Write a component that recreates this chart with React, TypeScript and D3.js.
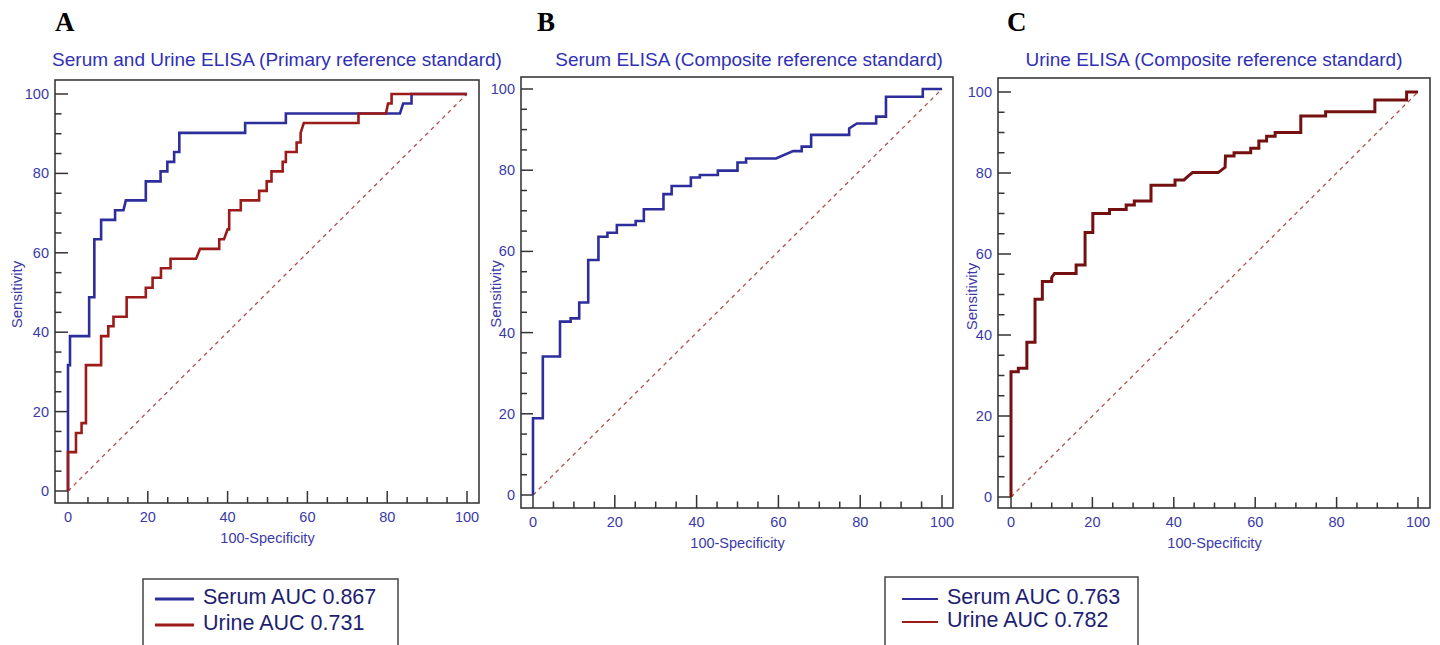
import * as d3 from "d3";

// ROC curve vertices: [100-Specificity, Sensitivity]
const serumPrimary: [number, number][] = [
  [0, 0], [0, 31.7], [0.5, 31.7], [0.5, 39], [5.3, 39], [5.3, 48.8], [6.6, 48.8], [6.6, 63.4],
  [8.3, 63.4], [8.3, 68.3], [11.8, 68.3], [11.8, 70.7], [13.9, 70.7], [14.5, 73.2], [19.5, 73.2],
  [19.5, 78], [23.2, 78], [23.2, 80.5], [24.9, 80.5], [24.9, 82.9], [26.6, 82.9], [26.6, 85.4],
  [27.9, 85.4], [27.9, 90.2], [44.4, 90.2], [44.4, 92.7], [54.6, 92.7], [54.6, 95.1], [83.2, 95.1],
  [84, 97.6], [86.1, 97.6], [86.1, 100], [100, 100],
];

const urinePrimary: [number, number][] = [
  [0, 0], [0, 9.8], [2, 9.8], [2, 14.6], [3.4, 14.6], [3.4, 17.1], [4.5, 17.1], [4.5, 31.7],
  [8.3, 31.7], [8.3, 39], [10.1, 39], [10.1, 41.5], [11.4, 41.5], [11.4, 43.9], [14.7, 43.9],
  [14.7, 48.8], [19.5, 48.8], [19.5, 51.2], [21.2, 51.2], [21.2, 53.7], [23.3, 53.7], [23.3, 56.1],
  [25.7, 56.1], [25.7, 58.5], [32.1, 58.5], [33.1, 61], [37.9, 61], [37.9, 63.4], [39.1, 63.4],
  [40, 65.9], [40.4, 65.9], [40.4, 70.7], [43.3, 70.7], [43.3, 73.2], [47.9, 73.2], [47.9, 75.6],
  [49.8, 75.6], [49.8, 78], [51, 78], [51, 80.5], [53.8, 80.5], [53.8, 82.9], [54.6, 82.9],
  [54.6, 85.4], [57.3, 85.4], [57.3, 87.8], [58.3, 87.8], [58.3, 90.2], [59.1, 92.7], [72.8, 92.7],
  [72.8, 95.1], [79.7, 95.1], [80.2, 97.6], [81.1, 97.6], [81.1, 100], [100, 100],
];

const serumComposite: [number, number][] = [
  [0, 0], [0, 18.9], [2.4, 18.9], [2.4, 34.1], [6.6, 34.1], [6.6, 42.7], [9.2, 42.7], [9.2, 43.5],
  [11.3, 43.5], [11.3, 47.4], [13.5, 47.4], [13.5, 57.9], [16, 57.9], [16, 63.6], [18.2, 63.6],
  [18.2, 64.6], [20.5, 64.6], [20.5, 66.5], [25.1, 66.5], [25.1, 67.5], [27.1, 67.5], [27.1, 70.4],
  [31.9, 70.4], [31.9, 74.1], [33.9, 74.1], [33.9, 76.1], [38.6, 76.1], [38.6, 78.2], [40.8, 78.2],
  [40.8, 78.8], [45.2, 78.8], [45.2, 79.9], [50, 79.9], [50, 81.9], [52.1, 81.9], [52.1, 82.9],
  [59.4, 82.9], [63.6, 84.7], [65.7, 84.7], [65.7, 85.8], [68, 85.8], [68, 88.7], [77.3, 88.7],
  [77.3, 90.3], [79.2, 91.5], [83.9, 91.5], [83.9, 93.2], [86.3, 93.2], [86.3, 98.1], [95.3, 98.1],
  [95.3, 100], [100, 100],
];

const urineComposite: [number, number][] = [
  [0, 0], [0, 30.9], [1.8, 30.9], [1.8, 31.8], [3.9, 31.8], [3.9, 38.2], [5.9, 38.2], [5.9, 48.8],
  [7.7, 48.8], [7.7, 53.2], [10, 53.2], [10, 54.2], [10.7, 55.2], [16, 55.2], [16, 57.3],
  [18.2, 57.3], [18.2, 65.3], [20.1, 65.3], [20.1, 70], [24.2, 70], [24.2, 71], [28.3, 71],
  [28.3, 72.1], [30.3, 72.1], [30.3, 73.1], [34.4, 73.1], [34.4, 77], [40.3, 77], [40.3, 78.3],
  [42.5, 78.3], [43.6, 79.3], [44.6, 80.1], [50.9, 80.1], [52.6, 81.4], [52.7, 84.2], [54.8, 84.2],
  [54.8, 85], [58.9, 85], [58.9, 86.1], [60.9, 86.1], [60.9, 87.9], [62.8, 87.9], [62.8, 89.1],
  [64.9, 89.1], [64.9, 90], [71.2, 90], [71.2, 94.1], [77.3, 94.1], [77.3, 95.1], [89.4, 95.1],
  [89.4, 98], [97.2, 98], [97.2, 100], [100, 100],
];

const majorTicks = [0, 20, 40, 60, 80, 100];
const minorTicks = d3.range(0, 101, 5);
const panelLetters = ["A", "B", "C"];
const panelTitles = [
  "Serum and Urine ELISA (Primary reference standard)",
  "Serum ELISA (Composite reference standard)",
  "Urine ELISA (Composite reference standard)",
];
const legendLeft = ["Serum AUC 0.867", "Urine AUC 0.731"];
const legendRight = ["Serum AUC 0.763", "Urine AUC 0.782"];

const SERUM = "#2d2d9c";
const URINE = "#9c1a1a";
const URINE_DARK = "#741010";
const LABEL = "#3a3aa8";
const SANS = "'Liberation Sans', Arial, sans-serif";

type Curve = { data: [number, number][]; color: string; width: number };

function Panel({ frame, xr, yr, letter, letterX, title, titleX, ylabX, curves }: any) {
  const x = d3.scaleLinear().domain([0, 100]).range(xr);
  const y = d3.scaleLinear().domain([0, 100]).range(yr);
  const line = d3.line<[number, number]>().x((d) => x(d[0])).y((d) => y(d[1]));
  const majX = yr[0] - frame.b; // negative: ticks point up into frame
  const majY = xr[0] - frame.l;

  return (
    <g>
      <text x={letterX} y={31} fontFamily="'Liberation Serif', 'Times New Roman', serif" fontWeight="bold" fontSize={27}>
        {letter}
      </text>
      <text x={titleX} y={66} textAnchor="middle" fontFamily={SANS} fontSize={19} fill="#3030b4">
        {title}
      </text>
      <rect x={frame.l} y={frame.t} width={frame.r - frame.l} height={frame.b - frame.t} fill="white" stroke="#3a3a3a" strokeWidth={1.6} />

      {minorTicks.map((t) => {
        const major = t % 20 === 0;
        return (
          <g key={"t" + t} stroke="#333" strokeWidth={1.5}>
            <line x1={x(t)} x2={x(t)} y1={frame.b} y2={frame.b + (major ? majX : majX / 2)} />
            <line x1={frame.l} x2={frame.l + (major ? majY : majY / 2)} y1={y(t)} y2={y(t)} />
          </g>
        );
      })}
      {majorTicks.map((t) => (
        <g key={"l" + t} fontFamily={SANS} fontSize={14.5} fill={LABEL}>
          <text x={x(t)} y={frame.b + 19} textAnchor="middle">{t}</text>
          <text x={frame.l - 6} y={y(t) + 5} textAnchor="end">{t}</text>
        </g>
      ))}
      <text x={(xr[0] + xr[1]) / 2} y={frame.b + 40} textAnchor="middle" fontFamily={SANS} fontSize={14.5} fill={LABEL}>
        100-Specificity
      </text>
      <text
        transform={`translate(${ylabX},${(yr[0] + yr[1]) / 2 + 2}) rotate(-90)`}
        textAnchor="middle" fontFamily={SANS} fontSize={15} fill={LABEL}
      >
        Sensitivity
      </text>

      <line x1={x(0)} y1={y(0)} x2={x(100)} y2={y(100)} stroke="#b34d4d" strokeWidth={1.3} strokeDasharray="4,4" />
      {curves.map((c: Curve, i: number) => (
        <path key={i} d={line(c.data) || ""} fill="none" stroke={c.color} strokeWidth={c.width} strokeLinejoin="miter" />
      ))}
    </g>
  );
}

function Legend({ box, lx, items, colors, lineY, width }: any) {
  return (
    <g>
      <rect x={box.x} y={box.y} width={box.w} height={120} fill="white" stroke="#444" strokeWidth={1.5} />
      {items.map((t: string, i: number) => (
        <g key={t}>
          <line x1={lx[0]} x2={lx[1]} y1={lineY[i]} y2={lineY[i]} stroke={colors[i]} strokeWidth={width} />
          <text x={lx[1] + 9} y={lineY[i] + 5} fontFamily={SANS} fontSize={21.5} fill="#1e1e70">
            {t}
          </text>
        </g>
      ))}
    </g>
  );
}

export default function App() {
  return (
    <div style={{ position: "absolute", left: 0, top: 0 }}>
      <svg width={1440} height={645} style={{ display: "block", background: "white" }}>
        <Panel
          frame={{ l: 55, r: 479, t: 80, b: 503 }} xr={[68, 467]} yr={[491, 94]}
          letter={panelLetters[0]} letterX={55} title={panelTitles[0]} titleX={277} ylabX={22}
          curves={[
            { data: serumPrimary, color: SERUM, width: 2.6 },
            { data: urinePrimary, color: URINE, width: 2.6 },
          ]}
        />
        <Panel
          frame={{ l: 521, r: 953, t: 77, b: 508 }} xr={[533, 942]} yr={[495, 89]}
          letter={panelLetters[1]} letterX={537} title={panelTitles[1]} titleX={749} ylabX={501}
          curves={[{ data: serumComposite, color: SERUM, width: 2.6 }]}
        />
        <Panel
          frame={{ l: 998, r: 1430, t: 78, b: 508 }} xr={[1011, 1418]} yr={[497, 92]}
          letter={panelLetters[2]} letterX={1007} title={panelTitles[2]} titleX={1214} ylabX={977}
          curves={[{ data: urineComposite, color: URINE_DARK, width: 3 }]}
        />
        <Legend box={{ x: 143, y: 579, w: 255 }} lx={[155, 194]} items={legendLeft} colors={[SERUM, URINE]} lineY={[599, 625]} width={3} />
        <Legend box={{ x: 885, y: 577, w: 253 }} lx={[902, 938]} items={legendRight} colors={[SERUM, URINE]} lineY={[599, 622]} width={2} />
      </svg>
    </div>
  );
}
